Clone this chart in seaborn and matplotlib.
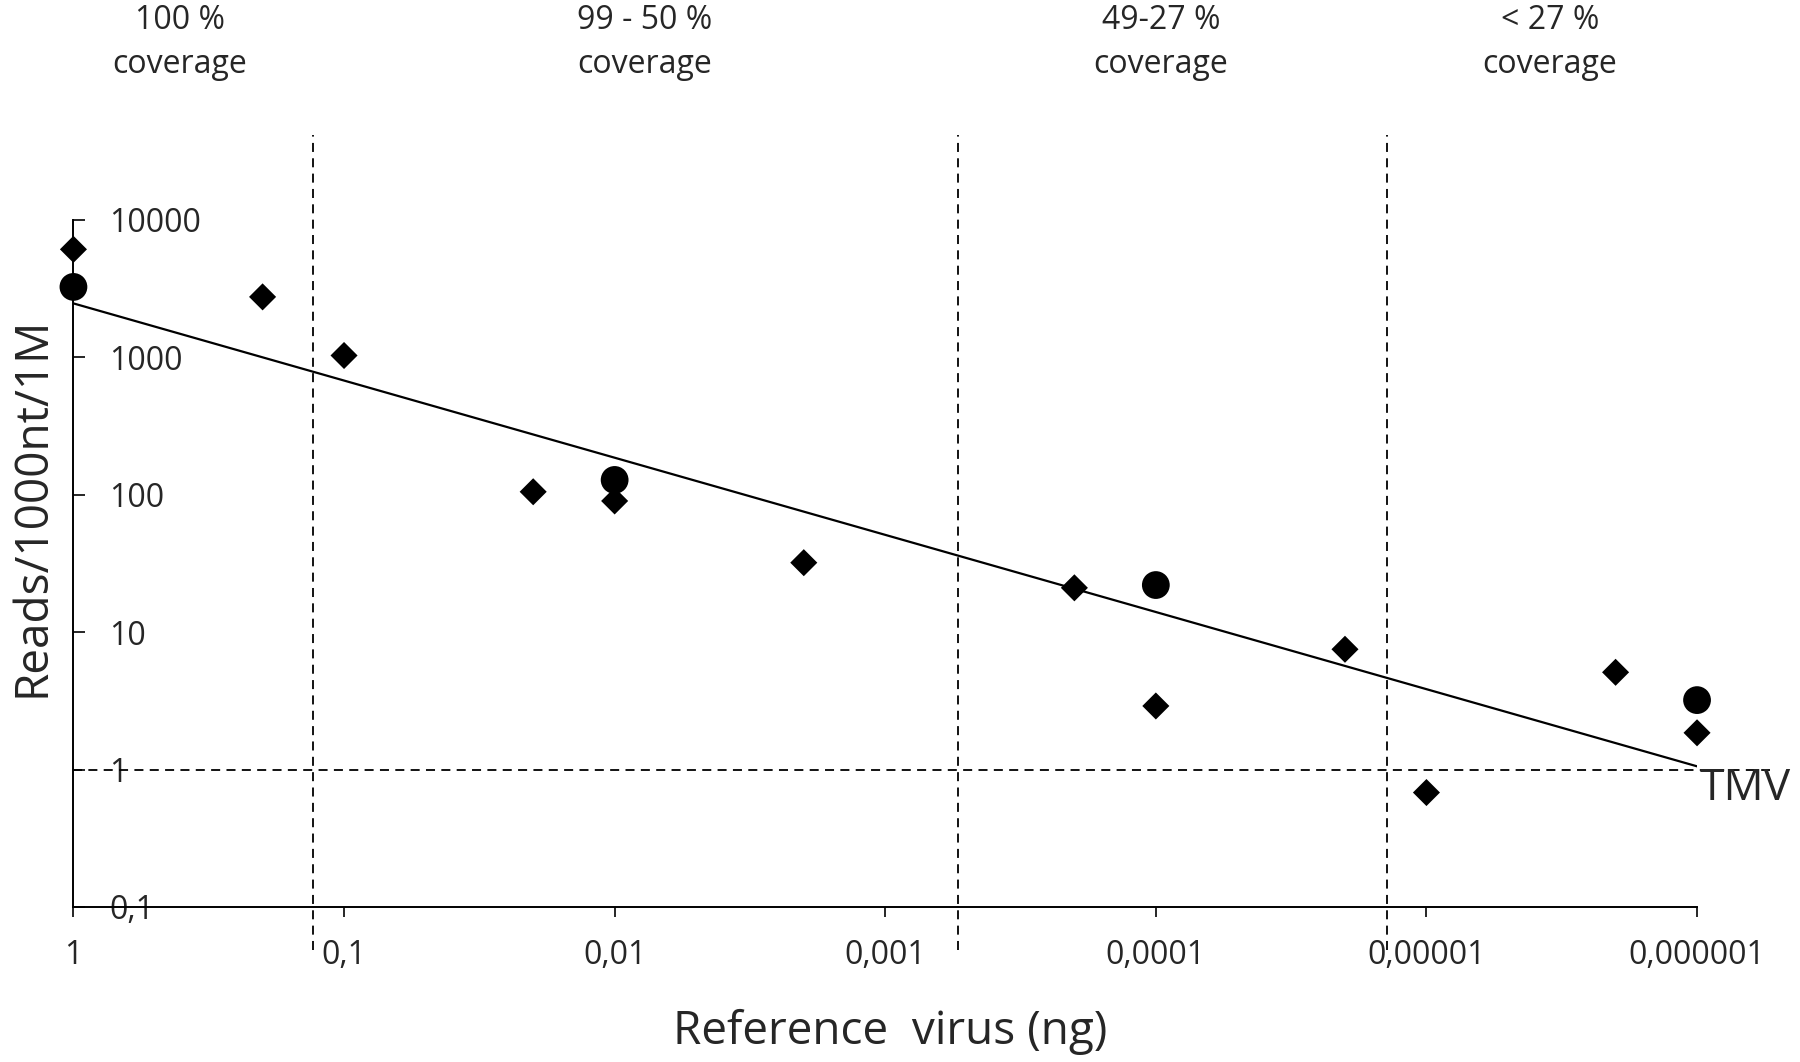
import seaborn as sns
import matplotlib.pyplot as plt
import numpy as np
import pandas as pd


# Reference virus dilution series (ng) vs normalised reads

dose_diamond = [1, 0.2, 0.1, 0.02, 0.01, 0.002, 0.0002, 0.0001, 0.00002, 0.00001, 0.000002, 0.000001]
reads_diamond = [6100, 2750, 1030, 105, 90, 32, 21, 2.9, 7.5, 0.68, 5.1, 1.85]

dose_circle = [1, 0.01, 0.0001, 0.000001]
reads_circle = [3250, 128, 22, 3.2]

x_ticks = [1, 0.1, 0.01, 0.001, 0.0001, 0.00001, 0.000001]
x_tick_labels = ["1", "0,1", "0,01", "0,001", "0,0001", "0,00001", "0,000001"]
y_ticks = [0.1, 1, 10, 100, 1000, 10000]
y_tick_labels = ["0,1", "1", "10", "100", "1000", "10000"]

# coverage boundaries (ng) and labels above the plot
coverage_bounds = [0.13, 0.00054, 0.000014]
coverage_labels = ["100 %\ncoverage", "99 - 50 %\ncoverage", "49-27 %\ncoverage", "< 27 %\ncoverage"]
coverage_label_x = [0.1, 0.358, 0.645, 0.861]

detection_limit = 1

sns.set_theme(style="white")
plt.rcParams["font.family"] = ["Open Sans", "DejaVu Sans"]

df_d = pd.DataFrame({"dose": dose_diamond, "reads": reads_diamond})
df_c = pd.DataFrame({"dose": dose_circle, "reads": reads_circle})

fig = plt.figure(figsize=(18, 10.62), dpi=100)
ax = fig.add_axes([0.0408, 0.146, 0.902, 0.647])

sns.scatterplot(data=df_d, x="dose", y="reads", marker="D", s=190,
                color="black", edgecolor="none", ax=ax, zorder=3, clip_on=False)
sns.scatterplot(data=df_c, x="dose", y="reads", marker="o", s=400,
                color="black", edgecolor="none", ax=ax, zorder=3, clip_on=False)

# power trendline fitted on all points
all_x = np.log10(dose_diamond + dose_circle)
all_y = np.log10(reads_diamond + reads_circle)
slope, intercept = np.polyfit(all_x, all_y, 1)
fit_x = np.array([1, 0.000001])
fit_y = 10 ** (intercept + slope * np.log10(fit_x))
ax.plot(fit_x, fit_y, color="black", lw=1.6, zorder=2)

ax.set_xscale("log")
ax.set_yscale("log")
ax.set_xlim(1, 0.000001)
ax.set_ylim(0.1, 10000)

dash = (0, (5, 3.5))
for b in coverage_bounds:
    ax.vlines(b, 10 ** -1.31, 10 ** 4.62, colors="black", linestyles=dash,
              lw=1.3, clip_on=False)
ax.hlines(detection_limit, 1, 10 ** -6.27, colors="black", linestyles=dash,
          lw=1.3, clip_on=False)
ax.text(0.98e-6, 0.72, "TMV", fontsize=32, ha="left", va="center")

ax.set_xticks(x_ticks, x_tick_labels)
ax.set_yticks(y_ticks, y_tick_labels)
ax.minorticks_off()
ax.tick_params(axis="x", direction="out", length=7, width=1.4, pad=16,
               labelsize=23, bottom=True)
ax.tick_params(axis="y", direction="in", length=8.5, width=1.4, pad=-26,
               labelsize=23, left=True)
for lbl in ax.get_yticklabels():
    lbl.set_horizontalalignment("left")

for side in ["top", "right"]:
    ax.spines[side].set_visible(False)
for side in ["left", "bottom"]:
    ax.spines[side].set_linewidth(1.4)
    ax.spines[side].set_color("black")

ax.set_xlabel("Reference  virus (ng)", fontsize=33)
ax.set_ylabel("Reads/1000nt/1M", fontsize=33)
ax.xaxis.set_label_coords(0.503, -0.148)
ax.yaxis.set_label_coords(-0.011, 0.582)

for lab, xf in zip(coverage_labels, coverage_label_x):
    top_line, bottom_line = lab.split("\n")
    fig.text(xf, 0.981, top_line, fontsize=23, ha="center", va="center")
    fig.text(xf, 0.9393, bottom_line, fontsize=23, ha="center", va="center")

fig.savefig("out.png", dpi=100, facecolor="white")
